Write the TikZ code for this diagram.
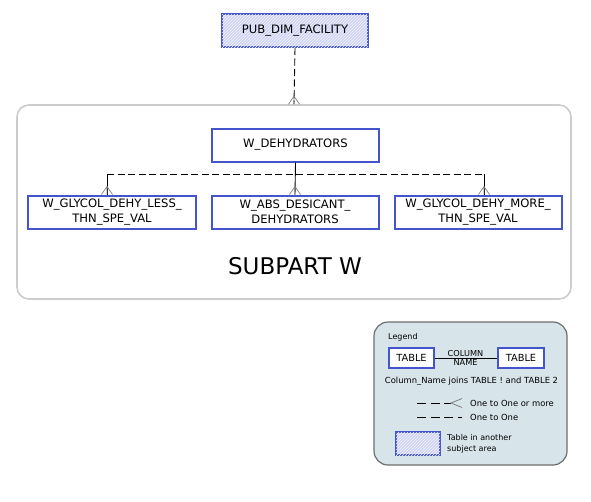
\documentclass[tikz,border=0pt]{standalone}
\usepackage{fontspec}
\setmainfont{DejaVu Sans}
\usetikzlibrary{patterns}
\definecolor{tblblue}{RGB}{68,84,204}
\definecolor{hatchfill}{RGB}{206,210,245}
\definecolor{areagray}{RGB}{204,204,204}
\definecolor{legendfill}{RGB}{215,228,234}
\definecolor{legendline}{RGB}{110,110,110}
\begin{document}
\begin{tikzpicture}[x=1pt, y=-1pt,
    tbl/.style={draw=tblblue, line width=2pt, fill=white, inner sep=0pt,
      minimum width=167pt, minimum height=33pt, align=center,
      font=\fontsize{11.6}{15}\selectfont},
    othertbl/.style={tbl, fill=hatchfill,
      postaction={pattern=north east lines, pattern color=white!80!hatchfill}},
    rel/.style={line width=0.9pt, dash pattern=on 7pt off 3.5pt},
    crow/.pic={\draw[gray, line width=0.7pt] (-5.5,0) -- (0,-8) -- (5.5,0) (0,-8) -- (0,0);},
    smalltxt/.style={font=\fontsize{8.4}{11}\selectfont, inner sep=0pt}]
    \useasboundingbox (0,0) rectangle (591,501);
    % subject area
    \node[draw=areagray, line width=1.6pt, rounded corners=12pt, minimum width=554pt,
      minimum height=194pt] (area) at (294,202) {};
    \node[font=\fontsize{23}{26}\selectfont] (areaname) at (295,266) {SUBPART W};
    % tables
    \node[othertbl, minimum width=146pt] (pub) at (295,30.5) {PUB\_DIM\_FACILITY};
    \node[tbl] (dehy) at (295.5,145) {W\_DEHYDRATORS};
    \node[tbl, minimum width=168pt] (glyless) at (112,212) {W\_GLYCOL\_DEHY\_LESS\_\\THN\_SPE\_VAL};
    \node[tbl] (absdes) at (295,212) {W\_ABS\_DESICANT\_\\DEHYDRATORS};
    \node[tbl] (glymore) at (478,212) {W\_GLYCOL\_DEHY\_MORE\_\\THN\_SPE\_VAL};
    % relations
    \draw[rel] (pub.south) -- (area.north);
    \pic at (area.north) {crow};
    \coordinate (busL) at (107,174);
    \coordinate (busR) at (484,174);
    \draw[rel] (busL) -- (busR);
    \draw[line width=0.9pt] (busL) -- (busL |- glyless.north);
    \draw[line width=0.9pt] (busR) -- (busR |- glymore.north);
    \draw[line width=0.9pt] (dehy.south) -- (absdes.north);
    \pic at (busL |- glyless.north) {crow};
    \pic at (absdes.north) {crow};
    \pic at (busR |- glymore.north) {crow};
    % legend
    \node[draw=legendline, fill=legendfill, line width=1.2pt, rounded corners=14pt,
      minimum width=193pt, minimum height=143pt] (legend) at (470.5,393.5) {};
    \node[smalltxt, font=\fontsize{8}{9}\selectfont, anchor=west] (legendtitle) at (388,337) {Legend};
    \node[tbl, minimum width=45pt, minimum height=20pt, font=\fontsize{9.8}{11}\selectfont] (ltab1) at (411.5,358) {TABLE};
    \node[tbl, minimum width=46pt, minimum height=20pt, font=\fontsize{9.8}{11}\selectfont] (ltab2) at (521,358) {TABLE};
    \draw[line width=0.8pt] (ltab1.east) -- (ltab2.west);
    \node[smalltxt, font=\fontsize{8.2}{9}\selectfont, anchor=south] (colname) at (465.5,356.5) {COLUMN};
    \node[smalltxt, font=\fontsize{8.2}{9}\selectfont, anchor=north] (colname2) at (465.5,359.5) {NAME};
    \node[smalltxt] (joins) at (471.5,381) {Column\_Name joins TABLE ! and TABLE 2};
    \coordinate (many0) at (417,403);
    \coordinate (many1) at (451,403);
    \draw[line width=0.8pt, dash pattern=on 9pt off 4.5pt] (many0) -- (many1);
    \draw[gray, line width=0.8pt] (many1) ++(11,-4.5) -- ++(-11,4.5) -- ++(11,4.5);
    \node[smalltxt, anchor=west] (manytxt) at (470,403) {One to One or more};
    \coordinate (one0) at (417,417);
    \coordinate (one1) at (462,417);
    \draw[line width=0.8pt, dash pattern=on 9pt off 4.5pt] (one0) -- (one1);
    \node[smalltxt, anchor=west] (onetxt) at (470,417) {One to One};
    \node[othertbl, minimum width=44pt, minimum height=23pt] (lother) at (418,443.5) {};
    \node[smalltxt, font=\fontsize{8}{11}\selectfont, anchor=west, align=left] (othertxt) at (447,444) {Table in another\\subject area};
\end{tikzpicture}
\end{document}
